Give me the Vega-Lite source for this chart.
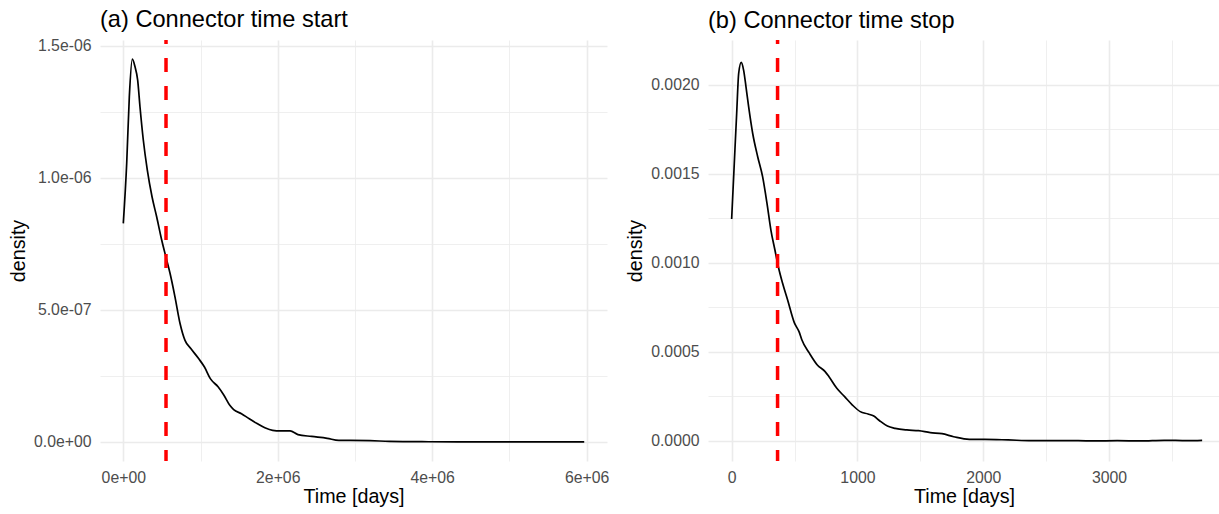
{
  "$schema": "https://vega.github.io/schema/vega-lite/v6.json",
  "padding": {"left": 8, "top": 8, "right": 0, "bottom": 0},
  "background": "white",
  "spacing": 16,
  "config": {
    "font": "Liberation Sans",
    "view": {"stroke": null},
    "axis": {
      "labelFont": "Liberation Sans", "labelFontSize": 15.8, "labelColor": "#4d4d4d",
      "titleFont": "Liberation Sans", "titleFontSize": 19.7, "titleFontWeight": "normal", "titleColor": "#000000",
      "domain": false, "ticks": false, "tickSize": 0, "gridColor": "#ebebeb",
      "labelOverlap": false, "labelFlush": false, "labelPadding": 9
    },
    "axisX": {"titlePadding": 2},
    "axisY": {"titlePadding": 5},
    "title": {"font": "Liberation Sans", "fontSize": 23.6, "fontWeight": "normal", "anchor": "start", "frame": "group", "color": "#000000", "baseline": "alphabetic", "offset": 6}
  },
  "hconcat": [
    {
      "width": 507, "height": 421,
      "title": "(a) Connector time start",
      "layer": [
        {
          "data": {"values": [
            {"time": 0, "density": 0.828e-6},
            {"time": 44000, "density": 1.056e-6},
            {"time": 78000, "density": 1.308e-6},
            {"time": 117000, "density": 1.450e-6},
            {"time": 151000, "density": 1.422e-6},
            {"time": 186000, "density": 1.371e-6},
            {"time": 216000, "density": 1.270e-6},
            {"time": 259000, "density": 1.144e-6},
            {"time": 311000, "density": 1.030e-6},
            {"time": 372000, "density": 0.929e-6},
            {"time": 432000, "density": 0.853e-6},
            {"time": 497000, "density": 0.765e-6},
            {"time": 562000, "density": 0.689e-6},
            {"time": 605000, "density": 0.639e-6},
            {"time": 669000, "density": 0.550e-6},
            {"time": 734000, "density": 0.450e-6},
            {"time": 799000, "density": 0.385e-6},
            {"time": 874000, "density": 0.354e-6},
            {"time": 975000, "density": 0.316e-6},
            {"time": 1051000, "density": 0.284e-6},
            {"time": 1127000, "density": 0.240e-6},
            {"time": 1227000, "density": 0.209e-6},
            {"time": 1303000, "density": 0.177e-6},
            {"time": 1379000, "density": 0.139e-6},
            {"time": 1429000, "density": 0.123e-6},
            {"time": 1530000, "density": 0.107e-6},
            {"time": 1631000, "density": 0.088e-6},
            {"time": 1732000, "density": 0.070e-6},
            {"time": 1833000, "density": 0.054e-6},
            {"time": 1934000, "density": 0.044e-6},
            {"time": 2034000, "density": 0.042e-6},
            {"time": 2160000, "density": 0.042e-6},
            {"time": 2261000, "density": 0.028e-6},
            {"time": 2438000, "density": 0.021e-6},
            {"time": 2640000, "density": 0.014e-6},
            {"time": 2791000, "density": 0.006e-6},
            {"time": 2942000, "density": 0.006e-6},
            {"time": 3194000, "density": 0.005e-6},
            {"time": 3446000, "density": 0.0025e-6},
            {"time": 3951000, "density": 0.001e-6},
            {"time": 4455000, "density": 0.0005e-6},
            {"time": 5262000, "density": 0.0002e-6},
            {"time": 5968000, "density": 0.0002e-6}
          ]},
          "mark": {"type": "line", "color": "#000000", "strokeWidth": 1.7, "interpolate": "monotone"},
          "encoding": {
            "x": {"field": "time", "type": "quantitative", "title": "Time [days]",
              "scale": {"domain": [-301700, 6263000], "nice": false, "zero": false},
              "axis": {"values": [0, 1000000, 2000000, 3000000, 4000000, 5000000, 6000000],
                "labelExpr": "datum.value == 0 ? '0e+00' : datum.value == 2000000 ? '2e+06' : datum.value == 4000000 ? '4e+06' : datum.value == 6000000 ? '6e+06' : ''",
                "gridWidth": {"condition": {"test": "datum.value % 2000000 == 0", "value": 1.6}, "value": 0.8}}},
            "y": {"field": "density", "type": "quantitative", "title": "density",
              "scale": {"domain": [-0.07197e-6, 1.5227e-6], "nice": false, "zero": false},
              "axis": {"values": [0, 2.5e-7, 5e-7, 7.5e-7, 1e-6, 1.25e-6, 1.5e-6],
                "labelExpr": "abs(datum.value) < 1e-9 ? '0.0e+00' : abs(datum.value - 5e-7) < 1e-9 ? '5.0e-07' : abs(datum.value - 1e-6) < 1e-9 ? '1.0e-06' : abs(datum.value - 1.5e-6) < 1e-9 ? '1.5e-06' : ''",
                "gridWidth": {"condition": {"test": "abs(datum.value/5e-7 - round(datum.value/5e-7)) < 0.01", "value": 1.6}, "value": 0.8}}}
          }
        },
        {
          "data": {"values": [{"time": 553000}]},
          "mark": {"type": "rule", "color": "#ff0000", "strokeWidth": 3.5, "strokeDash": [14, 14], "strokeDashOffset": 10},
          "encoding": {"x": {"field": "time", "type": "quantitative"}}
        }
      ]
    },
    {
      "width": 512, "height": 421,
      "title": "(b) Connector time stop",
      "layer": [
        {
          "data": {"values": [
            {"time": 0, "density": 0.001247},
            {"time": 21, "density": 0.001560},
            {"time": 40, "density": 0.001841},
            {"time": 56, "density": 0.002066},
            {"time": 76, "density": 0.002127},
            {"time": 95, "density": 0.002084},
            {"time": 114, "density": 0.001990},
            {"time": 135, "density": 0.001878},
            {"time": 167, "density": 0.001729},
            {"time": 207, "density": 0.001597},
            {"time": 246, "density": 0.001485},
            {"time": 281, "density": 0.001335},
            {"time": 312, "density": 0.001185},
            {"time": 344, "density": 0.001073},
            {"time": 371, "density": 0.000979},
            {"time": 405, "density": 0.000886},
            {"time": 445, "density": 0.000792},
            {"time": 498, "density": 0.000665},
            {"time": 538, "density": 0.000610},
            {"time": 557, "density": 0.000570},
            {"time": 619, "density": 0.000492},
            {"time": 681, "density": 0.000427},
            {"time": 743, "density": 0.000390},
            {"time": 774, "density": 0.000361},
            {"time": 836, "density": 0.000296},
            {"time": 898, "density": 0.000249},
            {"time": 960, "density": 0.000202},
            {"time": 1022, "density": 0.000165},
            {"time": 1084, "density": 0.000152},
            {"time": 1130, "density": 0.000140},
            {"time": 1176, "density": 0.000114},
            {"time": 1238, "density": 0.000084},
            {"time": 1300, "density": 0.000071},
            {"time": 1393, "density": 0.000062},
            {"time": 1486, "density": 0.000058},
            {"time": 1579, "density": 0.000047},
            {"time": 1672, "density": 0.000041},
            {"time": 1765, "density": 0.000024},
            {"time": 1889, "density": 0.000009},
            {"time": 2012, "density": 0.000009},
            {"time": 2198, "density": 0.000006},
            {"time": 2384, "density": 0.000002},
            {"time": 2755, "density": 0.000002},
            {"time": 2879, "density": 0.0000005},
            {"time": 3065, "density": 0.000002},
            {"time": 3251, "density": 0.0000005},
            {"time": 3437, "density": 0.000004},
            {"time": 3622, "density": 0.000002},
            {"time": 3740, "density": 0.000004}
          ]},
          "mark": {"type": "line", "color": "#000000", "strokeWidth": 1.7, "interpolate": "monotone"},
          "encoding": {
            "x": {"field": "time", "type": "quantitative", "title": "Time [days]",
              "scale": {"domain": [-188, 3882], "nice": false, "zero": false},
              "axis": {"values": [0, 500, 1000, 1500, 2000, 2500, 3000, 3500],
                "labelExpr": "datum.value % 1000 == 0 ? format(datum.value, 'd') : ''",
                "gridWidth": {"condition": {"test": "datum.value % 1000 == 0", "value": 1.6}, "value": 0.8}}},
            "y": {"field": "density", "type": "quantitative", "title": "density",
              "scale": {"domain": [-0.00011236, 0.0022528], "nice": false, "zero": false},
              "axis": {"values": [0, 0.00025, 0.0005, 0.00075, 0.001, 0.00125, 0.0015, 0.00175, 0.002],
                "labelExpr": "abs(datum.value/0.0005 - round(datum.value/0.0005)) < 0.01 ? format(datum.value, '.4f') : ''",
                "gridWidth": {"condition": {"test": "abs(datum.value/0.0005 - round(datum.value/0.0005)) < 0.01", "value": 1.6}, "value": 0.8}}}
          }
        },
        {
          "data": {"values": [{"time": 365}]},
          "mark": {"type": "rule", "color": "#ff0000", "strokeWidth": 3.5, "strokeDash": [14, 14], "strokeDashOffset": 10},
          "encoding": {"x": {"field": "time", "type": "quantitative"}}
        }
      ]
    }
  ]
}
